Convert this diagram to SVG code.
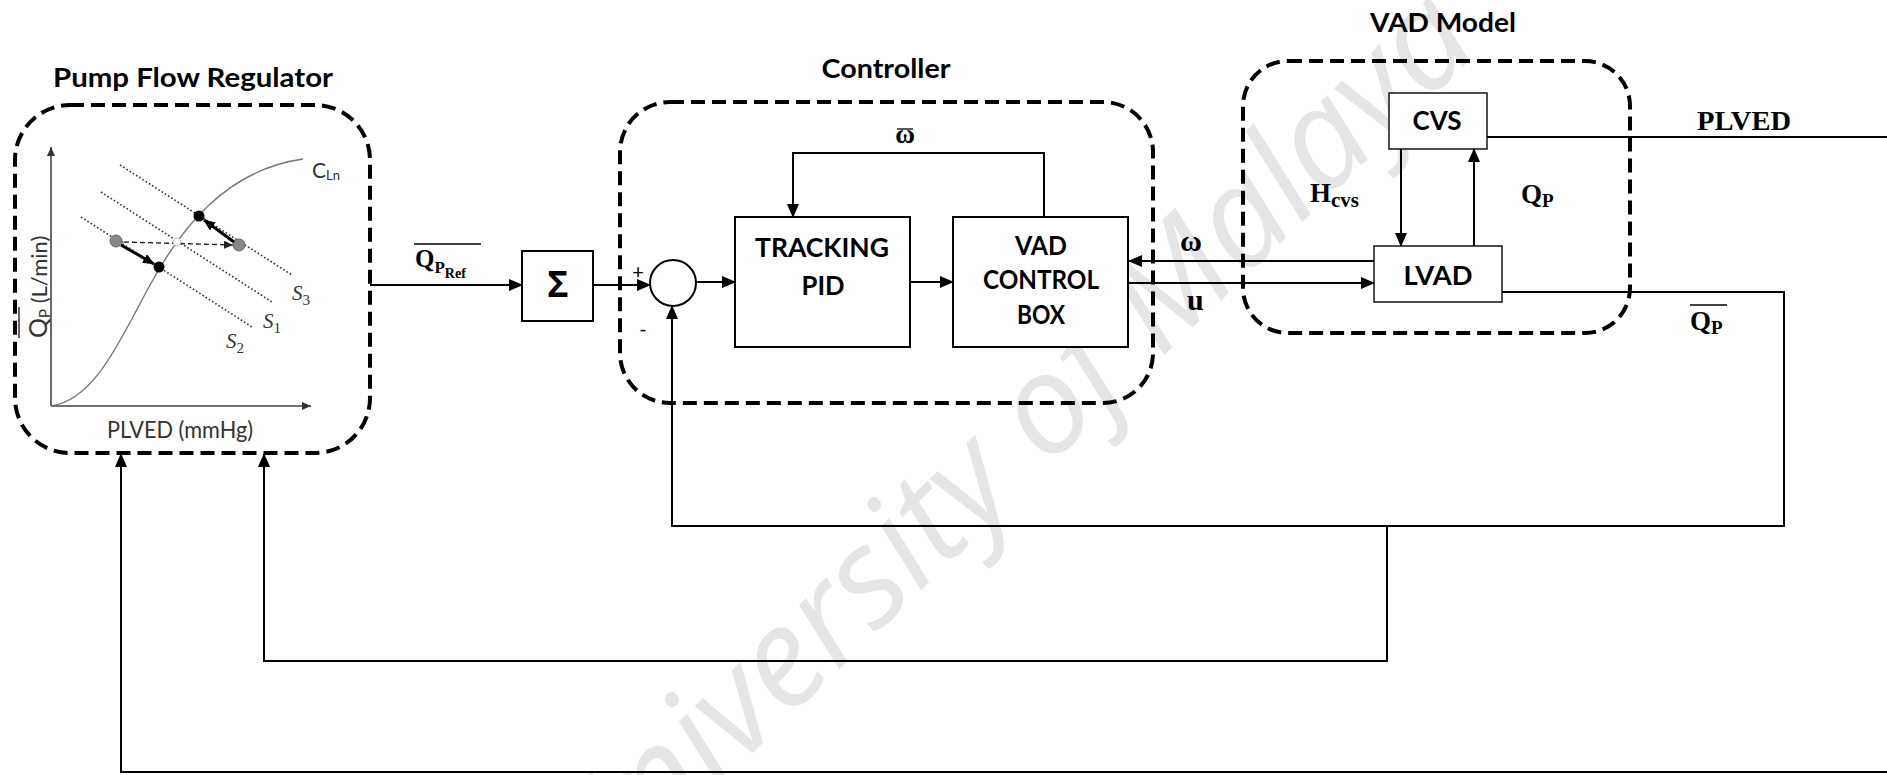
<svg xmlns="http://www.w3.org/2000/svg" width="1887" height="775" viewBox="0 0 1887 775">
<defs>
<marker id="ah" markerUnits="userSpaceOnUse" markerWidth="14" markerHeight="12" refX="13" refY="6" orient="auto">
<path d="M0,0 L14,6 L0,12 Z" fill="#000"/>
</marker>
<marker id="ahs" markerUnits="userSpaceOnUse" markerWidth="9" markerHeight="8" refX="9" refY="4" orient="auto">
<path d="M0,0 L9,4 L0,8 Z" fill="#333"/>
</marker>
<marker id="ahb" markerUnits="userSpaceOnUse" markerWidth="12" markerHeight="10" refX="11" refY="5" orient="auto">
<path d="M0,0 L12,5 L0,10 Z" fill="#000"/>
</marker>
<marker id="ahd" markerUnits="userSpaceOnUse" markerWidth="9" markerHeight="8" refX="9" refY="4" orient="auto">
<path d="M0,0 L9,4 L0,8 Z" fill="#222"/>
</marker>
</defs>
<style>
.dash{fill:none;stroke:#000;stroke-width:4;stroke-dasharray:14 7}
.box{fill:#fff;stroke:#000;stroke-width:2}
.sbox{fill:#fff;stroke:#222;stroke-width:1.6}
.ln{fill:none;stroke:#000;stroke-width:2}
.title{font-family:Lato,"Liberation Sans",sans-serif;font-weight:bold;font-size:27px;fill:#000;text-anchor:middle}
.lbl{font-family:Lato,"Liberation Sans",sans-serif;font-weight:bold;font-size:26px;fill:#000;text-anchor:middle}
.tm{font-family:"Liberation Serif",serif;font-weight:bold;fill:#000}
.gr{font-family:Lato,"Liberation Sans",sans-serif;fill:#333}
.sl{font-family:"Liberation Serif",serif;fill:#333}
.dot{fill:none;stroke:#333;stroke-width:1.6;stroke-dasharray:1.6 2.2}
</style>
<text x="1037" y="478" transform="rotate(-44 1037 478)" font-family="'Open Sans',sans-serif" font-style="italic" font-size="138" fill="#e5e5e5" text-anchor="middle">University of Malaya</text>

<g id="pump-flow-regulator">
<rect class="dash" x="15" y="105" width="355" height="348" rx="55"/>
<text class="title" x="193" y="87" textLength="280" lengthAdjust="spacingAndGlyphs">Pump Flow Regulator</text>
<line x1="51" y1="406" x2="51" y2="147" stroke="#444" stroke-width="1.6" marker-end="url(#ahs)"/>
<line x1="51" y1="406" x2="311" y2="406" stroke="#444" stroke-width="1.6" marker-end="url(#ahs)"/>
<path d="M51,406 C95,400 120,340 150,285 C180,230 225,170 303,159" fill="none" stroke="#777" stroke-width="1.4"/>
<line class="dot" x1="120" y1="165" x2="292" y2="275"/>
<line class="dot" x1="101" y1="192" x2="272" y2="302"/>
<line class="dot" x1="81" y1="217" x2="252" y2="327"/>
<line x1="124" y1="242" x2="233" y2="245" stroke="#222" stroke-width="1.4" stroke-dasharray="5 3" marker-end="url(#ahd)" marker-start="url(#ahd)"/>
<circle cx="177" cy="242" r="4" fill="#fff" stroke="#888" stroke-width="1" stroke-dasharray="1.5 1"/>
<circle cx="116" cy="241" r="6" fill="#888" stroke="#666" stroke-width="1"/>
<circle cx="239" cy="245" r="6" fill="#888" stroke="#666" stroke-width="1"/>
<line x1="121" y1="245" x2="154" y2="264" stroke="#000" stroke-width="3" marker-end="url(#ahb)"/>
<line x1="234" y1="242" x2="204" y2="220" stroke="#000" stroke-width="3" marker-end="url(#ahb)"/>
<circle cx="199" cy="216" r="5.5" fill="#000"/>
<circle cx="159" cy="267" r="5.5" fill="#000"/>
<text class="gr" x="312" y="178" font-size="21">C<tspan font-size="13" dy="2">Ln</tspan></text>
<text class="sl" x="292" y="300" font-size="21" font-style="italic">S<tspan font-size="15" font-style="normal" dy="5">3</tspan></text>
<text class="sl" x="263" y="328" font-size="21" font-style="italic">S<tspan font-size="15" font-style="normal" dy="5">1</tspan></text>
<text class="sl" x="226" y="348" font-size="21" font-style="italic">S<tspan font-size="15" font-style="normal" dy="5">2</tspan></text>
<g transform="translate(47,338) rotate(-90)">
<text class="gr" x="0" y="0" font-size="25">Q<tspan font-size="15" dy="3">P</tspan><tspan font-size="22" dy="-3"> (L/min)</tspan></text>
<line x1="0" y1="-28" x2="31" y2="-28" stroke="#333" stroke-width="1.5"/>
</g>
<text class="gr" x="107" y="438" font-size="24" textLength="146" lengthAdjust="spacingAndGlyphs">PLVED (mmHg)</text>
</g>

<g id="sum-block">
<rect class="box" x="522" y="251" width="71" height="70"/>
<text x="558" y="297" font-family="'Open Sans',sans-serif" font-weight="bold" font-size="36" text-anchor="middle" fill="#000">Σ</text>
</g>
<g id="ref-label">
<text class="tm" x="415" y="267" font-size="25">Q<tspan font-size="17" dy="6">P</tspan><tspan font-size="14" dy="5">Ref</tspan></text>
<line x1="414" y1="244" x2="481" y2="244" stroke="#000" stroke-width="1.6"/>
</g>

<g id="controller">
<rect class="dash" x="620" y="102" width="533" height="301" rx="50"/>
<text class="title" x="886" y="78" textLength="129" lengthAdjust="spacingAndGlyphs">Controller</text>
</g>
<g id="summing-junction">
<circle cx="673" cy="283" r="23" fill="#fff" stroke="#000" stroke-width="2"/>
<text x="638" y="279" font-family="Lato,sans-serif" font-size="20" text-anchor="middle" fill="#000">+</text>
<text x="643" y="336" font-family="Lato,sans-serif" font-size="20" text-anchor="middle" fill="#000">-</text>
</g>
<g id="tracking-pid">
<rect class="box" x="735" y="217" width="175" height="130"/>
<text class="lbl" x="822" y="257" textLength="134" lengthAdjust="spacingAndGlyphs">TRACKING</text>
<text class="lbl" x="823" y="295" textLength="43" lengthAdjust="spacingAndGlyphs">PID</text>
</g>
<g id="vad-control-box">
<rect class="box" x="953" y="217" width="175" height="130"/>
<text class="lbl" x="1041" y="255" textLength="52" lengthAdjust="spacingAndGlyphs">VAD</text>
<text class="lbl" x="1041" y="289" textLength="116" lengthAdjust="spacingAndGlyphs">CONTROL</text>
<text class="lbl" x="1041" y="324" textLength="48" lengthAdjust="spacingAndGlyphs">BOX</text>
</g>

<g id="vad-model">
<rect class="dash" x="1243" y="61" width="387" height="272" rx="45"/>
<text class="title" x="1443" y="32" textLength="146" lengthAdjust="spacingAndGlyphs">VAD Model</text>
</g>
<g id="cvs">
<rect class="sbox" x="1389" y="93" width="98" height="56"/>
<text class="lbl" x="1437" y="130" textLength="49" lengthAdjust="spacingAndGlyphs">CVS</text>
</g>
<g id="lvad">
<rect class="sbox" x="1374" y="246" width="128" height="56"/>
<text class="lbl" x="1438" y="285" textLength="69" lengthAdjust="spacingAndGlyphs">LVAD</text>
</g>

<g id="connectors">
<path class="ln" d="M370,285 H522" marker-end="url(#ah)"/>
<path class="ln" d="M593,285 H650" marker-end="url(#ah)"/>
<path class="ln" d="M696,282 H735" marker-end="url(#ah)"/>
<path class="ln" d="M910,282 H953" marker-end="url(#ah)"/>
<path class="ln" d="M1044,217 V153 H793 V217" marker-end="url(#ah)"/>
<path class="ln" d="M1374,261 H1129" marker-end="url(#ah)"/>
<path class="ln" d="M1128,283 H1374" marker-end="url(#ah)"/>
<path class="ln" d="M1401,149 V246" marker-end="url(#ah)"/>
<path class="ln" d="M1474,246 V149" marker-end="url(#ah)"/>
<path class="ln" d="M1487,137 H1895 V772 H121 V454" marker-end="url(#ah)"/>
<path class="ln" d="M1502,292 H1784 V526 H672 V306" marker-end="url(#ah)"/>
<path class="ln" d="M1387,526 V661 H264 V454" marker-end="url(#ah)"/>
</g>

<g id="labels">
<text class="tm" x="905" y="143" font-size="27" text-anchor="middle">ω</text>
<line x1="897" y1="129" x2="913" y2="129" stroke="#000" stroke-width="1.3"/>
<text class="tm" x="1180" y="251" font-size="30">ω</text>
<text class="tm" x="1187" y="310" font-size="30">u</text>
<text class="tm" x="1310" y="202" font-size="27">H<tspan font-size="21" dy="5">cvs</tspan></text>
<text class="tm" x="1521" y="203" font-size="27">Q<tspan font-size="19" dy="4">P</tspan></text>
<text class="tm" x="1697" y="130" font-size="27" textLength="94" lengthAdjust="spacingAndGlyphs">PLVED</text>
<text class="tm" x="1690" y="330" font-size="27">Q<tspan font-size="19" dy="4">P</tspan></text>
<line x1="1690" y1="305" x2="1727" y2="305" stroke="#000" stroke-width="1.3"/>
</g>
</svg>
